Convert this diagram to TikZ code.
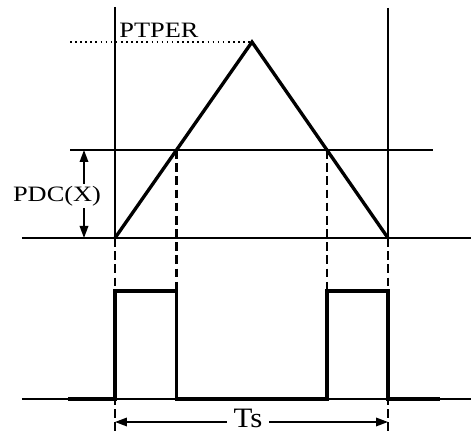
\documentclass[tikz,border=0pt]{standalone}
\usepackage{fontspec}
\setmainfont{Liberation Serif}
\usetikzlibrary{arrows.meta,calc}
\newcommand{\widetext}[1]{\scalebox{1.2}[1]{#1}}

\begin{document}
\begin{tikzpicture}[
    x=0.02cm, y=-0.02cm,
    thinline/.style={line width=1.1pt},
    waveline/.style={line width=1.9pt, line join=miter},
    guide/.style={line width=1.3pt, dash pattern=on 5pt off 2.5pt},
    peakdot/.style={line width=0.9pt, dotted},
    dimarr/.style={{Triangle[length=2.4mm,width=1.7mm]}-{Triangle[length=2.4mm,width=1.7mm]}, line width=1pt},
    lbl/.style={fill=white, inner sep=1pt, font=\fontsize{12.5}{14}\selectfont}
]
\useasboundingbox (0,0) rectangle (471,432);

% carrier and compare level
\coordinate (zl) at (115,238);
\coordinate (pk) at (252,42);
\coordinate (zr) at (388,238);
\coordinate (cl) at (176.5,150);
\coordinate (cr) at (326.9,150);

% frame lines
\draw[thinline] (115,7) coordinate (tl) -- (zl);
\draw[thinline] (388,8) coordinate (tr) -- (zr);
\draw[thinline] (22,238) coordinate (al) -- (471,238) coordinate (ar);
\draw[thinline] (70,150) coordinate (ll) -- (433,150) coordinate (lr);
\draw[thinline] (22,399) coordinate (bl) -- (471,399) coordinate (br);
\draw[peakdot] (70,42) coordinate (pd) -- (pk);

% guides
\draw[guide] (zl) -- (115,432) coordinate (gl);
\draw[guide] (zr) -- (388,432) coordinate (gr);
\draw[guide] (cl) -- (cl |- 0,291);
\draw[guide] (cr) -- (cr |- 0,291);

% triangle carrier
\draw[waveline] (zl) -- (pk) -- (zr);

% output pulses
\draw[waveline] (68,399) -- (115,399) -- (115,291) -- (cl |- 0,291) -- (cl |- 0,399)
    -- (cr |- 0,399) -- (cr |- 0,291) -- (388,291) -- (388,399) -- (440,399);

% labels
\node[lbl, anchor=base west, inner sep=0pt] (ptper) at (119,38) {\widetext{PTPER}};

\coordinate (pa) at (84,150);
\coordinate (pb) at (84,238);
\draw[dimarr] (pa) -- (pb);
\node[lbl] (pdc) at (57,196) {\widetext{PDC(X)}};

\coordinate (ta) at (115,422);
\coordinate (tb) at (388,422);
\draw[dimarr] (ta) -- (tb);
\node[lbl, font=\fontsize{16}{18}\selectfont, inner xsep=4pt, inner ysep=0pt] (ts) at (248,418) {\scalebox{1.1}[1]{Ts}};

\end{tikzpicture}
\end{document}
